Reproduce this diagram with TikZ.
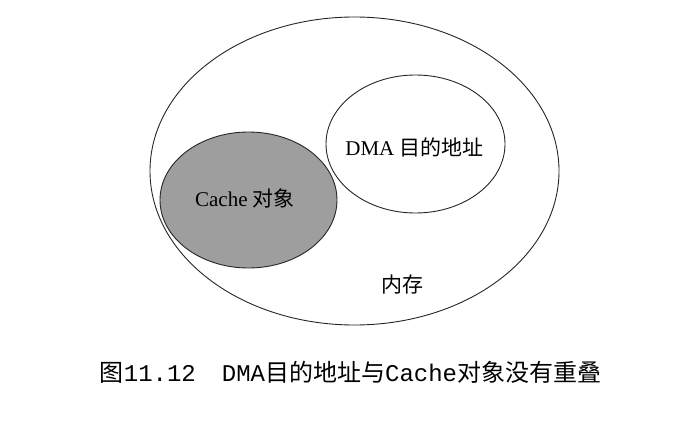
\documentclass[tikz,border=0pt]{standalone}
\usepackage{fontspec}
\setmainfont{Liberation Serif}
\newfontfamily\cjk{Noto Sans CJK SC}
\newfontfamily\capmono{Liberation Mono}
\usetikzlibrary{shapes.geometric}
\tikzstyle{region} = [ellipse, draw=black!85, line width=0.9pt, inner sep=0pt]
\tikzstyle{memory} = [region, minimum width=409pt, minimum height=308pt]
\tikzstyle{cacheobj} = [region, fill=black!38, minimum width=177pt, minimum height=136pt]
\tikzstyle{dmadest} = [region, fill=white, minimum width=179pt, minimum height=138pt]
\tikzstyle{label} = [inner sep=0pt, font=\fontsize{21}{25}\selectfont]
\tikzstyle{caption} = [inner sep=0pt, font=\fontsize{24}{29}\selectfont]
\begin{document}
\begin{tikzpicture}[x=1pt, y=-1pt]
\useasboundingbox (0,0) rectangle (682,441);
\node (mem) [memory] at (354.5,171) {};
\node (cache) [cacheobj] at (248.5,200) {};
\node (dma) [dmadest] at (415.5,144) {};
\node (cachelabel) [label] at (245,198) {Cache {\cjk 对象}};
\node (dmalabel) [label] at (414.5,147) {DMA {\cjk 目的地址}};
\node (memlabel) [label] at (402,285) {\cjk 内存};
% caption
\node (cap) [caption] at (350.5,372) {{\cjk 图}{\capmono 11.12}\hspace{26pt}{\capmono DMA}{\cjk 目的地址与}{\capmono Cache}{\cjk 对象没有重叠}};
\end{tikzpicture}
\end{document}
